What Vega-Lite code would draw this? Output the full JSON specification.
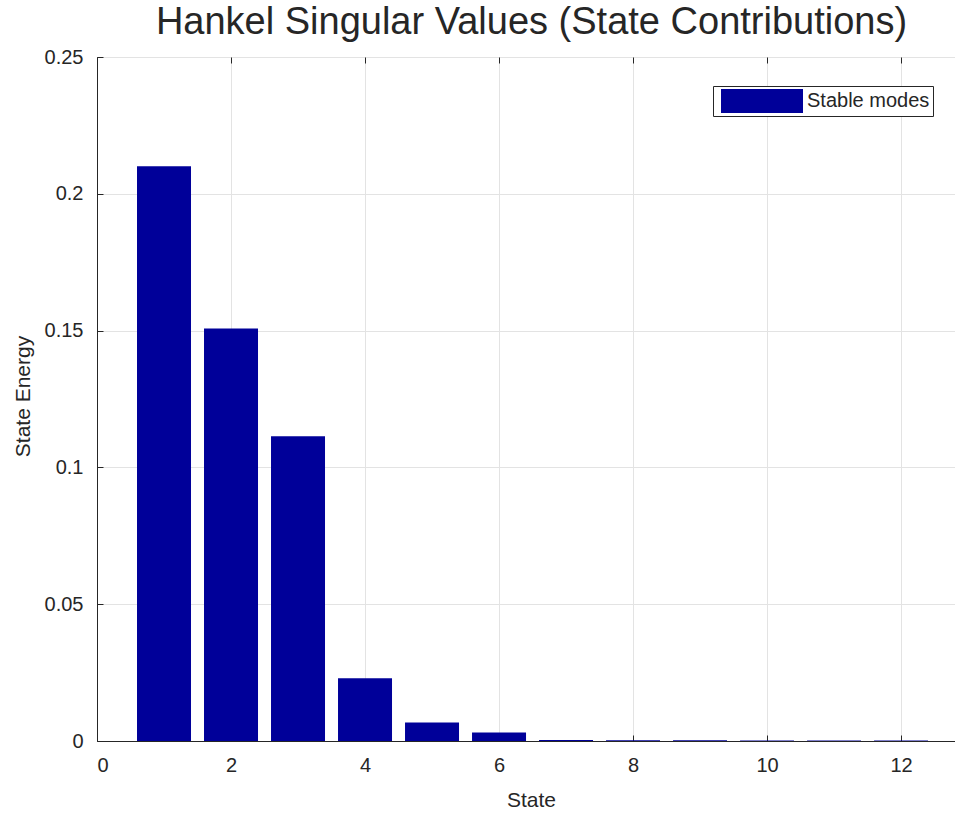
{
  "$schema": "https://vega.github.io/schema/vega-lite/v6.json",
  "autosize": "none",
  "width": 859,
  "height": 684,
  "padding": {"left": 97, "top": 57, "right": 0, "bottom": 73},
  "background": "white",
  "title": {
    "text": "Hankel Singular Values (State Contributions)",
    "font": "Liberation Sans",
    "fontSize": 38,
    "fontWeight": "normal",
    "color": "#262626",
    "anchor": "middle",
    "frame": "group",
    "dx": 5,
    "offset": 5
  },
  "config": {
    "view": {"stroke": "#262626", "strokeWidth": 1},
    "axis": {
      "labelFont": "Liberation Sans",
      "titleFont": "Liberation Sans",
      "labelFontSize": 20,
      "titleFontSize": 21,
      "titleFontWeight": "normal",
      "labelColor": "#262626",
      "titleColor": "#262626",
      "domainColor": "#262626",
      "tickColor": "#262626",
      "gridColor": "#e3e3e3",
      "tickSize": -6
    }
  },
  "resolve": {"axis": {"x": "independent"}},
  "data": {
    "values": [
      {"state": 1, "energy": 0.2101, "series": "Stable modes"},
      {"state": 2, "energy": 0.1508, "series": "Stable modes"},
      {"state": 3, "energy": 0.1114, "series": "Stable modes"},
      {"state": 4, "energy": 0.0229, "series": "Stable modes"},
      {"state": 5, "energy": 0.0068, "series": "Stable modes"},
      {"state": 6, "energy": 0.0031, "series": "Stable modes"},
      {"state": 7, "energy": 0.0004, "series": "Stable modes"},
      {"state": 8, "energy": 0.0003, "series": "Stable modes"},
      {"state": 9, "energy": 0.0003, "series": "Stable modes"},
      {"state": 10, "energy": 0.0002, "series": "Stable modes"},
      {"state": 11, "energy": 0.0002, "series": "Stable modes"},
      {"state": 12, "energy": 0.0002, "series": "Stable modes"}
    ]
  },
  "layer": [
    {
      "mark": {"type": "bar", "size": 54},
      "encoding": {
        "x": {
          "field": "state",
          "type": "quantitative",
          "scale": {"domain": [0, 12.82], "nice": false, "zero": false, "padding": 0},
          "axis": {"orient": "bottom", "values": [0, 2, 4, 6, 8, 10, 12], "title": "State", "labelPadding": 20, "titleX": 434, "titleY": 65, "titleBaseline": "alphabetic", "grid": true}
        },
        "y": {
          "field": "energy",
          "type": "quantitative",
          "scale": {"domain": [0, 0.25], "nice": false, "padding": 0},
          "axis": {"values": [0, 0.05, 0.1, 0.15, 0.2, 0.25], "format": "~g", "title": "State Energy", "labelPadding": 20, "titleX": -68, "titleY": 339, "titleBaseline": "alphabetic", "grid": true}
        },
        "color": {
          "field": "series",
          "type": "nominal",
          "scale": {"domain": ["Stable modes"], "range": ["#000099"]},
          "legend": {
            "title": null,
            "orient": "none",
            "legendX": 616,
            "legendY": 29,
            "symbolType": "M-0.583,-1H6.25V1H-0.583Z",
            "symbolSize": 576,
            "symbolStrokeWidth": 0,
            "labelFont": "Liberation Sans",
            "labelFontSize": 20,
            "labelColor": "#262626",
            "labelOffset": 67,
            "strokeColor": "#262626",
            "fillColor": "white",
            "padding": 3
          }
        }
      }
    },
    {
      "mark": {"type": "bar", "size": 54, "opacity": 0},
      "encoding": {
        "x": {
          "field": "state",
          "type": "quantitative",
          "axis": {"orient": "top", "values": [0, 2, 4, 6, 8, 10, 12], "labels": false, "title": null, "grid": false, "domain": false}
        },
        "y": {"field": "energy", "type": "quantitative"}
      }
    }
  ]
}
